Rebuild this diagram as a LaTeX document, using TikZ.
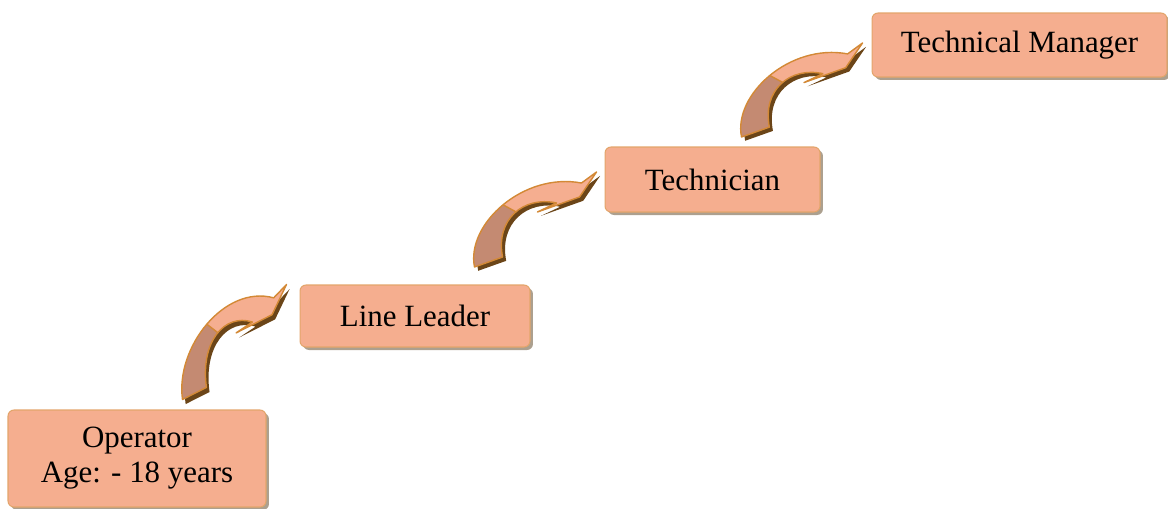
\documentclass[tikz,border=0pt]{standalone}
\usepackage{fontspec}
\setmainfont{Liberation Serif}
\usetikzlibrary{positioning,shadows}

\definecolor{boxfill}{HTML}{F5AE8F}
\definecolor{boxedge}{HTML}{E3A56B}
\definecolor{boxshadow}{HTML}{ACA08F}
\definecolor{arrowlight}{HTML}{F5AE90}
\definecolor{arrowdark}{HTML}{C48A72}
\definecolor{arrowedge}{HTML}{D38936}
\definecolor{arrowshadow}{HTML}{6B4518}

\newcommand\curvepath{(-1,1) .. controls (-1.07,0.55) and (-0.6,0) .. (-0.123,0.116) -- (0,0) -- (-0.139,0.263) -- (-0.484,0.421) -- (-0.328,0.326) .. controls (-0.6,0.25) and (-0.83,0.5) .. (-0.77,0.895) -- cycle}

\begin{document}
\begin{tikzpicture}[x=0.02cm, y=-0.02cm,
		stage/.style={draw=boxedge, line width=0.6pt, fill=boxfill, rounded corners=0.12cm, align=center, inner sep=0pt,
			font=\fontsize{17.6}{20}\selectfont,
			drop shadow={shadow xshift=0.06cm, shadow yshift=-0.06cm, fill=boxshadow, opacity=1}},
		pics/stairarrow/.style={code={
			\fill[arrowshadow, shift={(0.03,0.04)}] \curvepath;
			\fill[arrowdark] \curvepath;
			\begin{scope}
				\clip (-1.2,0.043) -- (-0.2,0.74) -- (0.3,0.74) -- (0.3,-0.3) -- (-1.2,-0.3) -- cycle;
				\fill[arrowlight] \curvepath;
			\end{scope}
			\begin{scope}
				\clip \curvepath;
				\draw[arrowedge, line width=0.8pt] (-1.2,0.043) -- (-0.2,0.74);
			\end{scope}
			\draw[arrowedge, line width=0.8pt, line join=round] \curvepath;
		}}]
		\useasboundingbox (0,0) rectangle (1168,508);
		% steps
		\node[stage, minimum width=5.16cm, minimum height=1.94cm] (operator) at (137,458.5) {Operator\\Age: - 18 years};
		\node[stage, minimum width=4.6cm, minimum height=1.24cm] (lineleader) at (415,316) {Line Leader};
		\node[stage, minimum width=4.3cm, minimum height=1.3cm] (technician) at (712.5,179.5) {Technician};
		\node[stage, minimum width=5.9cm, minimum height=1.28cm] (manager) at (1019.5,45) {Technical Manager};
		% curved arrows
		\pic[xscale=104, yscale=115] at ([shift={(-13,0)}]lineleader.north west) {stairarrow};
		\pic[xscale=122, yscale=95] at ([shift={(-8,-7.5)}]technician.west) {stairarrow};
		\pic[xscale=121, yscale=94] at ([shift={(-9,-2)}]manager.west) {stairarrow};
	\end{tikzpicture}
\end{document}
